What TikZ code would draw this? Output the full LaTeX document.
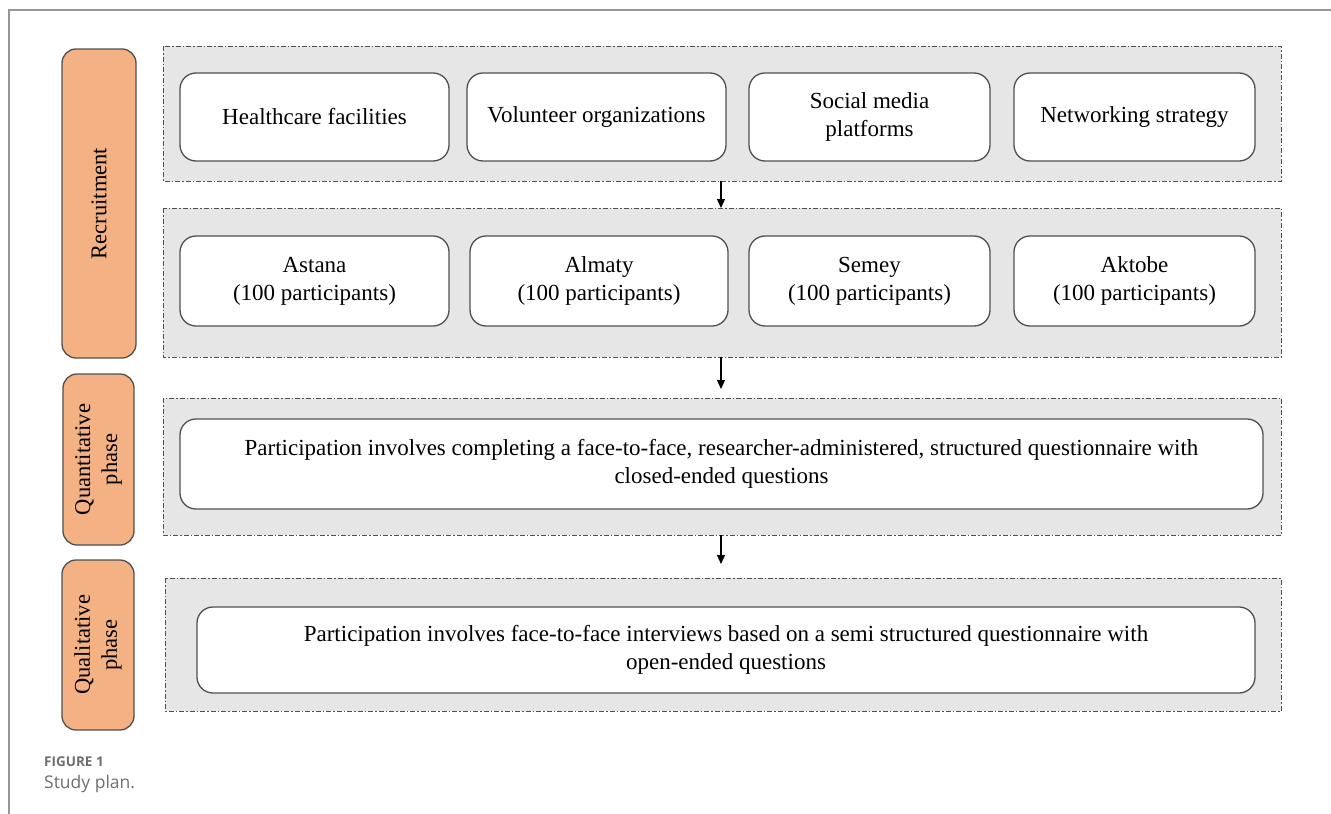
\documentclass[tikz,border=0pt]{standalone}
\usepackage{fontspec}
\setmainfont{Liberation Serif}
\newfontfamily\capfont{Open Sans}
\usetikzlibrary{arrows.meta}

\definecolor{phaseorange}{RGB}{244,177,131}
\definecolor{groupgray}{RGB}{231,230,230}
\definecolor{edgegray}{RGB}{80,80,80}
\definecolor{framegray}{RGB}{150,150,150}
\definecolor{captiongray}{RGB}{110,110,110}

\newcommand{\boxtextfont}{\fontsize{23}{28}\selectfont}
\newcommand{\phasetextfont}{\fontsize{22.5}{27}\selectfont}

\tikzset{
  grpbox/.style={draw=edgegray, fill=groupgray, line width=0.9pt,
    dash pattern=on 5pt off 2pt on 1.5pt off 2pt},
  itembox/.style={draw=edgegray, fill=white, line width=1.3pt, rounded corners=16pt,
    align=center, font={\boxtextfont}},
  phasebox/.style={draw=edgegray, fill=phaseorange, line width=1.3pt, rounded corners=14pt,
    rotate=90, align=center, font={\phasetextfont}},
  flowarrow/.style={-{Triangle[width=8pt,length=9pt]}, line width=1.2pt, black}
}

\begin{document}
\begin{tikzpicture}[x=1pt,y=-1pt]
  \useasboundingbox (0,0) rectangle (1331,814);

  % Page frame
  \draw[framegray, line width=1.5pt] (1331,10) -- (9,10) -- (9,814);

  % Group backgrounds
  \draw[grpbox] (163,46) rectangle (1281,181);
  \draw[grpbox] (163,208) rectangle (1281,357);
  \draw[grpbox] (163,398) rectangle (1281,535);
  \draw[grpbox] (165,578) rectangle (1281,711);

  % Phase labels
  \node[phasebox, minimum width=309pt, minimum height=74pt] (recruit) at (99,203.5) {Recruitment};
  \node[phasebox, minimum width=171pt, minimum height=71pt] (quant) at (98.5,459.5) {Quantitative\\phase};
  \node[phasebox, minimum width=170pt, minimum height=72pt] (qual) at (98,645) {Qualitative\\phase};

  % Recruitment channels
  \node[itembox, minimum width=269pt, minimum height=88pt] (health) at (314.5,117) {Healthcare facilities};
  \node[itembox, minimum width=259pt, minimum height=88pt] (volunt) at (596.5,117) {Volunteer organizations};
  \node[itembox, minimum width=241pt, minimum height=88pt] (social) at (869.5,117) {Social media\\platforms};
  \node[itembox, minimum width=241pt, minimum height=88pt] (network) at (1134.5,117) {Networking strategy};

  % Cities
  \node[itembox, minimum width=269pt, minimum height=90pt] (astana) at (314.5,281) {Astana\\(100 participants)};
  \node[itembox, minimum width=258pt, minimum height=90pt] (almaty) at (599,281) {Almaty\\(100 participants)};
  \node[itembox, minimum width=241pt, minimum height=90pt] (semey) at (869.5,281) {Semey\\(100 participants)};
  \node[itembox, minimum width=241pt, minimum height=90pt] (aktobe) at (1134.5,281) {Aktobe\\(100 participants)};

  % Phase contents
  \node[itembox, minimum width=1083pt, minimum height=90pt] (survey) at (721.5,464)
    {Participation involves completing a face-to-face, researcher-administered, structured questionnaire with\\closed-ended questions};
  \node[itembox, minimum width=1058pt, minimum height=86pt] (interview) at (726,650)
    {Participation involves face-to-face interviews based on a semi structured questionnaire with\\open-ended questions};

  % Arrows between groups
  \coordinate (g1s) at (721,181);
  \coordinate (g2n) at (721,208);
  \coordinate (g2s) at (721,357);
  \coordinate (g3n) at (721,389);
  \coordinate (g3s) at (721,535);
  \coordinate (g4n) at (721,564);
  \draw[flowarrow] (g1s) -- (g2n);
  \draw[flowarrow] (g2s) -- (g3n);
  \draw[flowarrow] (g3s) -- (g4n);

  % Caption
  \node[anchor=base west, inner sep=0pt, text=captiongray, font={\capfont\bfseries\fontsize{13.5}{16}\selectfont}] (figlabel) at (44,766) {FIGURE 1};
  \node[anchor=base west, inner sep=0pt, text=captiongray, font={\capfont\fontsize{17.5}{21}\selectfont}] (figtitle) at (44,788) {Study plan.};
\end{tikzpicture}
\end{document}
